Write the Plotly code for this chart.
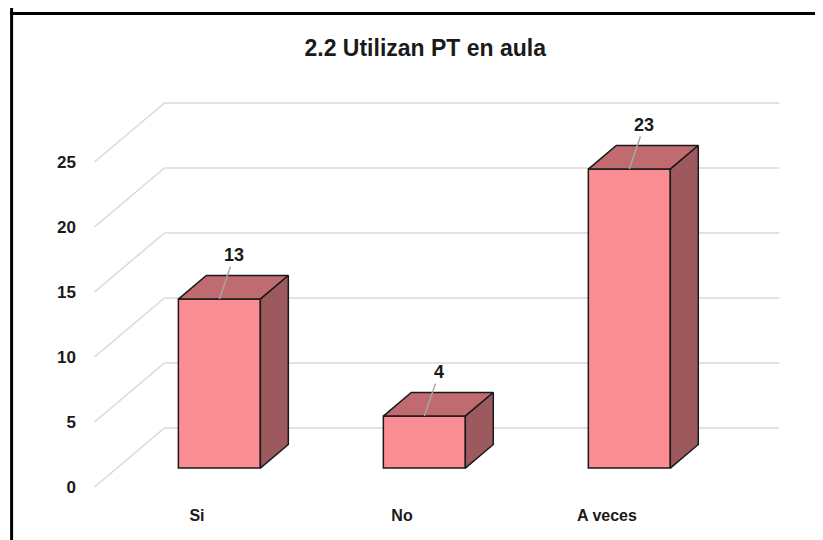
import plotly.graph_objects as go

# data
categories = ["Si", "No", "A veces"]
values = [13, 4, 23]
y_ticks = [0, 5, 10, 15, 20, 25]
title = "2.2 Utilizan PT en aula"

# 3D look: depth offset of the floor (category units / value units)
DX, DY = 0.341, 4.54
D0, D1 = 0.32, 0.72      # bar front/back depth
BW = 0.4                 # bar width
front_c, top_c, side_c = "#F98D93", "#BF6B6F", "#9D5A5E"
edge = dict(color="#1a1a1a", width=1.5)
grid = "#d9d9d9"

fig = go.Figure()

# left wall + back wall gridlines (under everything)
shapes = []
for t in y_ticks:
    shapes.append(dict(type="line", xref="x", yref="y", layer="below",
                       x0=-0.5, y0=t, x1=-0.5 + DX, y1=t + DY,
                       line=dict(color=grid, width=1.5)))
    shapes.append(dict(type="line", xref="x", yref="y", layer="below",
                       x0=-0.5 + DX, y0=t + DY, x1=2.5 + DX, y1=t + DY,
                       line=dict(color=grid, width=1.5)))
# chart frame
shapes.append(dict(type="line", xref="paper", yref="paper", x0=-0.094, y0=1.2, x1=-0.094, y1=-0.2,
                   line=dict(color="black", width=3)))
shapes.append(dict(type="line", xref="paper", yref="paper", x0=-0.096, y0=0.9887, x1=1.05, y1=0.9887,
                   line=dict(color="black", width=3)))

xs = list(range(len(categories)))

# front faces
fig.add_trace(go.Bar(
    x=[i + D0 * DX for i in xs], y=values, base=[D0 * DY] * len(values),
    width=BW, marker=dict(color=front_c, line=edge), hoverinfo="skip"))

# top and side faces
for i, v in zip(xs, values):
    cx = i + D0 * DX
    l, r = cx - BW / 2, cx + BW / 2
    b, h = D0 * DY, v + D0 * DY
    ddx, ddy = (D1 - D0) * DX, (D1 - D0) * DY
    fig.add_trace(go.Scatter(
        x=[l, r, r + ddx, l + ddx, l], y=[h, h, h + ddy, h + ddy, h],
        fill="toself", fillcolor=top_c, mode="lines", line=edge, hoverinfo="skip"))
    fig.add_trace(go.Scatter(
        x=[r, r + ddx, r + ddx, r, r], y=[b, b + ddy, h + ddy, h, b],
        fill="toself", fillcolor=side_c, mode="lines", line=edge, hoverinfo="skip"))

# data labels with leader lines
annotations = []
for i, v in zip(xs, values):
    annotations.append(dict(x=i + D0 * DX, y=v + D0 * DY, text="<b>%d</b>" % v,
                            showarrow=True, arrowhead=0, arrowwidth=1.5, arrowcolor="#a6a6a6",
                            ax=15, ay=-44, font=dict(size=18, color="#1a1a1a")))

fig.update_layout(
    width=823, height=540,
    margin=dict(l=74, r=0, t=0, b=52),
    paper_bgcolor="white", plot_bgcolor="white",
    showlegend=False,
    font=dict(family="Liberation Sans Narrow, Liberation Sans, Arial", color="#1a1a1a"),
    title=dict(text="<b>%s</b>" % title, x=0.507, xanchor="center", y=0.926, yanchor="middle",
               font=dict(size=23, color="#1a1a1a")),
    shapes=shapes, annotations=annotations,
    xaxis=dict(range=[-0.561, 3.093], tickvals=xs, ticktext=["<b>%s</b>" % c for c in categories],
               showgrid=False, zeroline=False, showline=False, ticks="", automargin=False,
               tickfont=dict(size=16), ticklabelstandoff=8),
    yaxis=dict(range=[-0.692, 36.846], tickvals=y_ticks, ticktext=["<b>%d</b>" % t for t in y_ticks],
               showgrid=False, zeroline=False, showline=False, ticks="", automargin=False,
               tickfont=dict(size=17), ticklabelstandoff=5),
)

fig.write_html("out.html", config={"displayModeBar": False})
